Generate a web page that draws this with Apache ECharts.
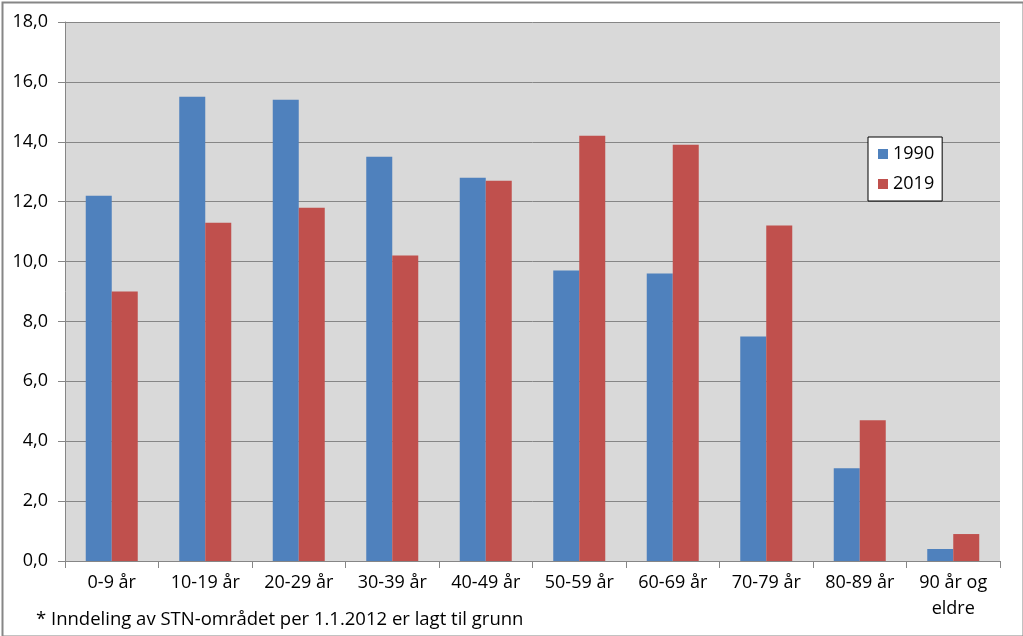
<!DOCTYPE html>
<html><head><meta charset="utf-8">
<script src="https://cdn.jsdelivr.net/npm/echarts@6/dist/echarts.min.js"></script>
<style>html,body{margin:0;padding:0;background:#fff}#c{width:1023px;height:636px}</style>
</head><body><div id="c"></div>
<script>
const categories = ['0-9 år','10-19 år','20-29 år','30-39 år','40-49 år','50-59 år','60-69 år','70-79 år','80-89 år','90 år og\neldre'];
const values1990 = [12.2, 15.5, 15.4, 13.5, 12.8, 9.7, 9.6, 7.5, 3.1, 0.4];
const values2019 = [9.0, 11.3, 11.8, 10.2, 12.7, 14.2, 13.9, 11.2, 4.7, 0.9];
const yTicks = [0, 2, 4, 6, 8, 10, 12, 14, 16, 18];
const footnote = '* Inndeling av STN-området per 1.1.2012 er lagt til grunn';

const font = '"Open Sans", "Noto Sans", sans-serif';
const chart = echarts.init(document.getElementById('c'));
chart.setOption({
  animation: false,
  textStyle: {fontFamily: font},
  grid: {left: 65, right: 23, top: 22, bottom: 75, show: true, backgroundColor: '#d9d9d9', borderWidth: 0},
  legend: {
    orient: 'vertical', left: 868, top: 137,
    data: ['1990', '2019'],
    itemWidth: 10, itemHeight: 10, itemGap: 12,
    padding: [8, 8, 8, 10],
    backgroundColor: '#fff', borderColor: '#000', borderWidth: 1,
    textStyle: {fontSize: 18, color: '#000', fontFamily: font},
    icon: 'rect'
  },
  xAxis: {
    type: 'category', data: categories,
    axisLine: {lineStyle: {color: '#868686'}},
    axisTick: {show: true, length: 7, lineStyle: {color: '#868686'}},
    axisLabel: {fontSize: 18, color: '#000', margin: 9, lineHeight: 26, interval: 0}
  },
  yAxis: {
    type: 'value', min: yTicks[0], max: yTicks[yTicks.length - 1], interval: 2,
    axisLine: {show: true, lineStyle: {color: '#868686'}},
    axisTick: {show: true, length: 7, lineStyle: {color: '#868686'}},
    splitLine: {lineStyle: {color: '#868686'}},
    axisLabel: {fontSize: 18, color: '#000', margin: 17, formatter: v => v.toFixed(1).replace('.', ',')}
  },
  series: [
    {name: '1990', type: 'bar', data: values1990, itemStyle: {color: '#4f81bd'}, barWidth: 26, barGap: '0%'},
    {name: '2019', type: 'bar', data: values2019, itemStyle: {color: '#c0504d'}, barWidth: 26, barGap: '0%'}
  ],
  graphic: [
    {type: 'text', left: 36, top: 610, style: {text: footnote, font: '18.5px ' + font, fill: '#000'}},
    {type: 'rect', left: 0, top: 0, shape: {x: 0, y: 0, width: 1021, height: 634}, style: {fill: 'none', stroke: '#868686', lineWidth: 2}}
  ]
});
</script></body></html>
